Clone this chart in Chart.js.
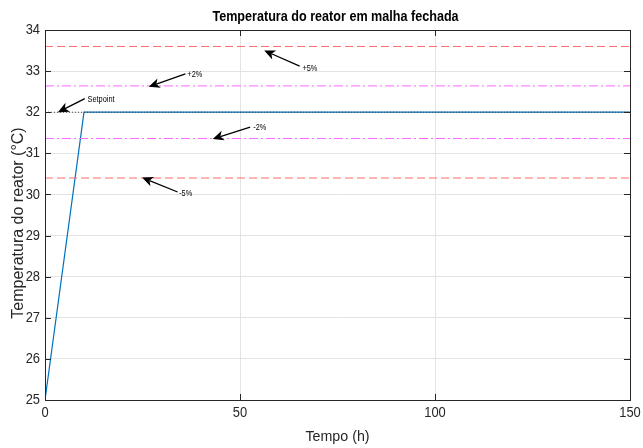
<!DOCTYPE html>
<html><head><meta charset="utf-8">
<script src="https://cdn.jsdelivr.net/npm/chart.js@4.4.1/dist/chart.umd.min.js"></script>
<style>html,body{margin:0;padding:0;background:#fff}#w{width:643px;height:448px}</style>
</head><body><div id="w"><canvas id="c" width="643" height="448"></canvas></div>
<script>
const FONT = "'Liberation Sans',Arial,sans-serif";
const timeH = [0, 10, 150];
const tempC = [25, 32, 32];
const setpoint = 32;
const limitsX = [0, 150];
const plus5 = 33.6, minus5 = 30.4, plus2 = 32.64, minus2 = 31.36;
const xTicks = [0, 50, 100, 150];
const yTicks = [25, 26, 27, 28, 29, 30, 31, 32, 33, 34];
const titleText = 'Temperatura do reator em malha fechada';
const xTitle = 'Tempo (h)';
const yTitle = 'Temperatura do reator (°C)';
// annotations: [label, textX, textY, tailX, tailY, headX, headY] in data units
const notes = [
  ["Setpoint", 10.9, 32.31, 10.2, 32.33, 3.3, 32.0],
  ["+2%", 36.5, 32.92, 36.0, 32.93, 26.6, 32.62],
  ["+5%", 66.0, 33.06, 65.3, 33.12, 56.2, 33.50],
  ["-2%", 53.4, 31.63, 52.6, 31.64, 43.0, 31.35],
  ["-5%", 34.4, 30.02, 34.0, 30.06, 24.9, 30.41]
];
const hline = (v) => limitsX.map(x => ({x, y: v}));

function drawText(ctx, s, x, y, font, sx, align, rot) {
  ctx.save(); ctx.translate(x, y); if (rot) ctx.rotate(rot); ctx.scale(sx, 1);
  ctx.font = font; ctx.textAlign = align; ctx.textBaseline = 'middle'; ctx.fillText(s, 0, 0);
  ctx.restore();
}

const boxPlugin = {
  id: 'box',
  afterDatasetsDraw(chart) {
    const ctx = chart.ctx, a = chart.chartArea, xs = chart.scales.x, ys = chart.scales.y;
    ctx.save();
    // annotations
    ctx.strokeStyle = '#000'; ctx.fillStyle = '#000'; ctx.lineWidth = 1.3;
    notes.forEach(n => {
      const tx = xs.getPixelForValue(n[1]), ty = ys.getPixelForValue(n[2]);
      const x0 = xs.getPixelForValue(n[3]), y0 = ys.getPixelForValue(n[4]);
      const x1 = xs.getPixelForValue(n[5]), y1 = ys.getPixelForValue(n[6]);
      const ang = Math.atan2(y1 - y0, x1 - x0), L = 11, W = 5;
      const bx = x1 - L * Math.cos(ang), by = y1 - L * Math.sin(ang);
      const mx = x1 - 8 * Math.cos(ang), my = y1 - 8 * Math.sin(ang);
      ctx.beginPath(); ctx.moveTo(x0, y0); ctx.lineTo(mx, my); ctx.stroke();
      ctx.beginPath(); ctx.moveTo(x1, y1);
      ctx.lineTo(bx + W * Math.sin(ang), by - W * Math.cos(ang));
      ctx.lineTo(mx, my);
      ctx.lineTo(bx - W * Math.sin(ang), by + W * Math.cos(ang));
      ctx.closePath(); ctx.fill();
      drawText(ctx, n[0], tx, ty, "9px " + FONT, 0.82, 'left');
    });
    // box and inner ticks
    ctx.strokeStyle = '#262626'; ctx.lineWidth = 1;
    ctx.strokeRect(Math.round(a.left) + 0.5, Math.round(a.top) + 0.5, Math.round(a.right - a.left), Math.round(a.bottom - a.top));
    ctx.beginPath();
    xTicks.forEach(v => { const p = Math.round(xs.getPixelForValue(v)) + 0.5;
      ctx.moveTo(p, a.bottom); ctx.lineTo(p, a.bottom - 6); ctx.moveTo(p, a.top); ctx.lineTo(p, a.top + 6); });
    yTicks.forEach(v => { const p = Math.round(ys.getPixelForValue(v)) + 0.5;
      ctx.moveTo(a.left, p); ctx.lineTo(a.left + 6, p); ctx.moveTo(a.right, p); ctx.lineTo(a.right - 6, p); });
    ctx.stroke();
    // tick labels
    ctx.fillStyle = '#262626';
    xTicks.forEach(v => drawText(ctx, String(v), xs.getPixelForValue(v), a.bottom + 13, "15px " + FONT, 0.86, 'center'));
    yTicks.forEach(v => drawText(ctx, String(v), a.left - 5, ys.getPixelForValue(v), "15px " + FONT, 0.86, 'right'));
    // titles
    ctx.fillStyle = '#000';
    drawText(ctx, titleText, (a.left + a.right) / 2 - 2, 17, "bold 15px " + FONT, 0.84, 'center');
    ctx.fillStyle = '#262626';
    drawText(ctx, xTitle, (a.left + a.right) / 2, 437, "15px " + FONT, 0.95, 'center');
    drawText(ctx, yTitle, 19, (a.top + a.bottom) / 2 + 8, "16px " + FONT, 1, 'center', -Math.PI / 2);
    ctx.restore();
  }
};

new Chart(document.getElementById('c'), {
  type: 'line',
  data: { datasets: [
    { data: hline(plus5), borderColor: '#ff6a6a', borderWidth: 1, borderDash: [8, 4], pointRadius: 0 },
    { data: hline(minus5), borderColor: '#ff6a6a', borderWidth: 1, borderDash: [8, 4], pointRadius: 0 },
    { data: hline(plus2), borderColor: '#ff66ff', borderWidth: 1, borderDash: [9, 3, 2, 3], pointRadius: 0 },
    { data: hline(minus2), borderColor: '#ff66ff', borderWidth: 1, borderDash: [9, 3, 2, 3], pointRadius: 0 },
    { data: hline(setpoint), borderColor: '#444', borderWidth: 1, borderDash: [1, 2], pointRadius: 0 },
    { data: timeH.map((t, i) => ({x: t, y: tempC[i]})), borderColor: '#0072BD', borderWidth: 1.2, pointRadius: 0, tension: 0 }
  ]},
  options: {
    responsive: false, animation: false, devicePixelRatio: 1,
    layout: { padding: { left: 45, right: 13, top: 30, bottom: 48 } },
    plugins: { legend: { display: false }, tooltip: { enabled: false }, title: { display: false } },
    scales: {
      x: { type: 'linear', min: 0, max: 150,
        afterBuildTicks: s => { s.ticks = xTicks.map(v => ({value: v})); },
        grid: { color: '#e3e3e3', drawTicks: false },
        border: { display: false },
        ticks: { display: false }
      },
      y: { type: 'linear', min: 25, max: 34,
        afterBuildTicks: s => { s.ticks = yTicks.map(v => ({value: v})); },
        grid: { color: '#e3e3e3', drawTicks: false },
        border: { display: false },
        ticks: { display: false }
      }
    }
  },
  plugins: [boxPlugin]
});
</script></body></html>
